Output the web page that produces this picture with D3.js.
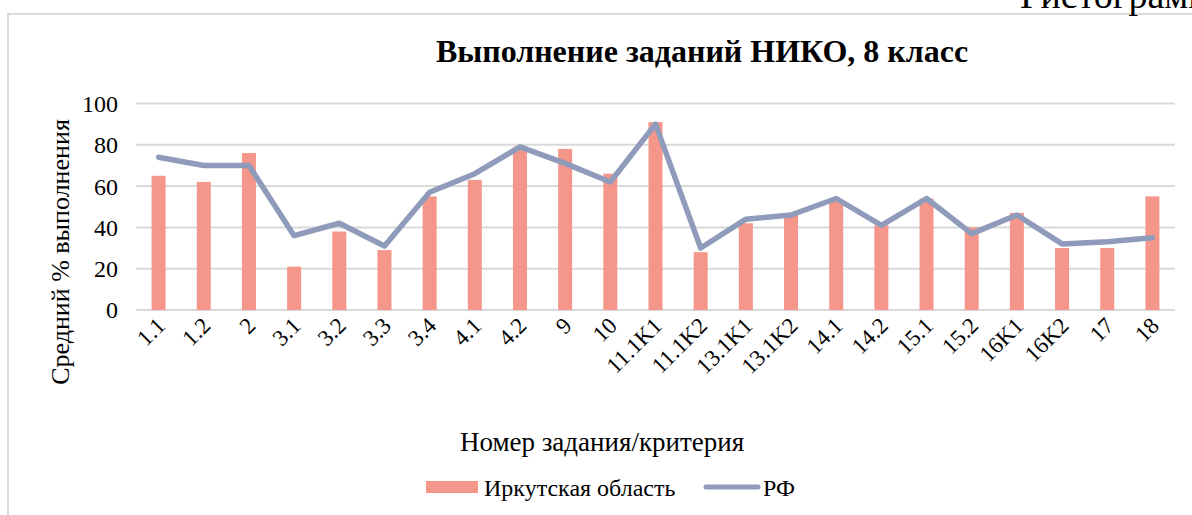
<!DOCTYPE html>
<html>
<head>
<meta charset="utf-8">
<script src="https://cdnjs.cloudflare.com/ajax/libs/d3/7.8.5/d3.min.js"></script>
<style>
  body { margin: 0; background: #fff; }
  svg { display: block; font-family: "Liberation Serif", "Times New Roman", serif; }
</style>
</head>
<body>
<svg id="canvas" width="1192" height="515"></svg>
<script>
// данные
let categories = ['1.1', '1.2', '2', '3.1', '3.2', '3.3', '3.4', '4.1', '4.2', '9', '10', '11.1K1', '11.1K2',
  '13.1K1', '13.1K2', '14.1', '14.2', '15.1', '15.2', '16K1', '16K2', '17', '18']
let irkutsk = [65, 62, 76, 21, 38, 29, 55, 63, 79, 78, 66, 91, 28, 42, 46, 53, 41, 54, 40, 47, 30, 30, 55]
let rf = [74, 70, 70, 36, 42, 31, 57, 66, 79, 71, 62, 90, 30, 44, 46, 54, 41, 54, 37, 46, 32, 33, 35]
let yTicks = [0, 20, 40, 60, 80, 100]

let barColor = '#f4968a'
let lineColor = '#8f9bba'
let gridColor = '#d9d9d9'

let canvas = d3.select('#canvas')

// рамка и обрезанная подпись сверху
canvas.append('path')
  .attr('d', 'M8,515 L8,14 L1192,14')
  .attr('fill', 'none')
  .attr('stroke', gridColor)
  .attr('stroke-width', 2)

canvas.append('text')
  .attr('x', 1020)
  .attr('y', 8)
  .attr('font-size', 38)
  .text('Гистограмма')

let xScale = d3.scaleBand()
  .domain(categories)
  .range([136, 1175])

let yScale = d3.scaleLinear()
  .domain([0, 100])
  .range([310, 103.5])

// сетка
canvas.append('g')
  .selectAll('line')
  .data(yTicks)
  .enter()
  .append('line')
  .attr('x1', 136)
  .attr('x2', 1175)
  .attr('y1', (d) => yScale(d))
  .attr('y2', (d) => yScale(d))
  .attr('stroke', gridColor)
  .attr('stroke-width', 2)

// подписи оси Y
canvas.append('g')
  .selectAll('text')
  .data(yTicks)
  .enter()
  .append('text')
  .attr('x', 118)
  .attr('y', (d) => yScale(d))
  .attr('dy', '0.35em')
  .attr('text-anchor', 'end')
  .attr('font-size', 24)
  .text((d) => d)

// столбцы
let barWidth = 14
canvas.append('g')
  .selectAll('rect')
  .data(irkutsk)
  .enter()
  .append('rect')
  .attr('x', (d, i) => xScale(categories[i]) + xScale.bandwidth() / 2 - barWidth / 2)
  .attr('y', (d) => yScale(d))
  .attr('width', barWidth)
  .attr('height', (d) => yScale(0) - yScale(d))
  .attr('fill', barColor)

// линия РФ
let line = d3.line()
  .x((d, i) => xScale(categories[i]) + xScale.bandwidth() / 2)
  .y((d) => yScale(d))

canvas.append('path')
  .datum(rf)
  .attr('d', line)
  .attr('fill', 'none')
  .attr('stroke', lineColor)
  .attr('stroke-width', 5.5)
  .attr('stroke-linecap', 'round')
  .attr('stroke-linejoin', 'round')

// подписи категорий
canvas.append('g')
  .selectAll('text')
  .data(categories)
  .enter()
  .append('text')
  .attr('transform', (d) => {
    let cx = xScale(d) + xScale.bandwidth() / 2 + 8
    return 'translate(' + cx + ',' + 327 + ') rotate(-45)'
  })
  .attr('text-anchor', 'end')
  .attr('font-size', 23)
  .text((d) => d)

// заголовок
canvas.append('text')
  .attr('x', 702)
  .attr('y', 62)
  .attr('text-anchor', 'middle')
  .attr('font-size', 32)
  .attr('font-weight', 'bold')
  .text('Выполнение заданий НИКО, 8 класс')

// названия осей
canvas.append('text')
  .attr('transform', 'translate(69,252) rotate(-90)')
  .attr('text-anchor', 'middle')
  .attr('font-size', 26)
  .text('Средний % выполнения')

canvas.append('text')
  .attr('x', 602)
  .attr('y', 451)
  .attr('text-anchor', 'middle')
  .attr('font-size', 27)
  .text('Номер задания/критерия')

// легенда
canvas.append('rect')
  .attr('x', 426)
  .attr('y', 481)
  .attr('width', 52)
  .attr('height', 12)
  .attr('fill', barColor)

canvas.append('text')
  .attr('x', 484)
  .attr('y', 496)
  .attr('font-size', 24)
  .text('Иркутская область')

canvas.append('line')
  .attr('x1', 706)
  .attr('x2', 758)
  .attr('y1', 487)
  .attr('y2', 487)
  .attr('stroke', lineColor)
  .attr('stroke-width', 5)
  .attr('stroke-linecap', 'round')

canvas.append('text')
  .attr('x', 763)
  .attr('y', 496)
  .attr('font-size', 24)
  .text('РФ')
</script>
</body>
</html>
